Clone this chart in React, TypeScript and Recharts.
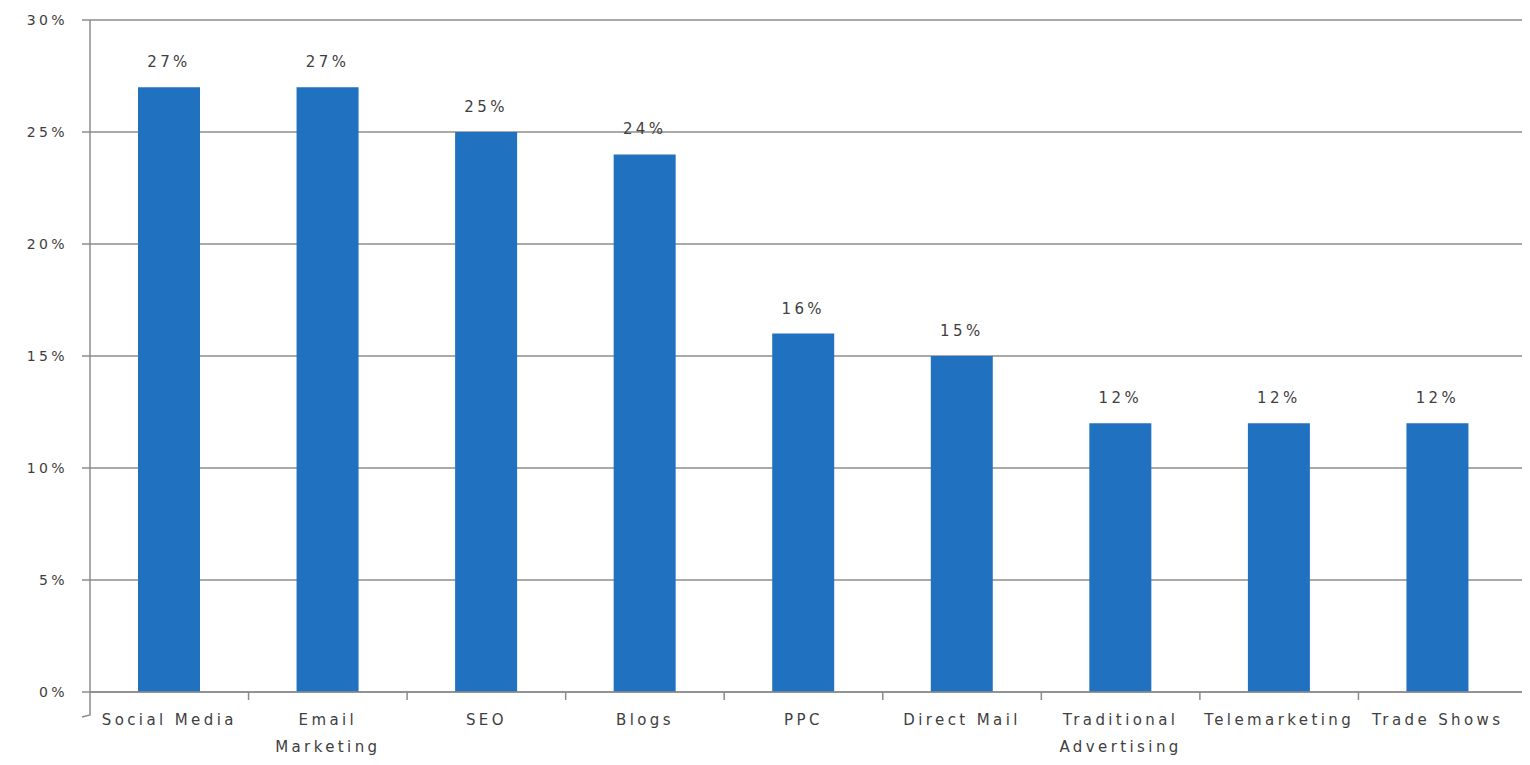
import React from 'react';
import { BarChart, Bar, XAxis, YAxis, CartesianGrid, LabelList } from 'recharts';

const channels = [
  'Social Media',
  'Email Marketing',
  'SEO',
  'Blogs',
  'PPC',
  'Direct Mail',
  'Traditional Advertising',
  'Telemarketing',
  'Trade Shows',
];
const shares = [27, 27, 25, 24, 16, 15, 12, 12, 12];
const yTicks = [0, 5, 10, 15, 20, 25, 30];

// category labels that wrap onto two lines
const labelLines: Record<string, string[]> = {
  'Email Marketing': ['Email', 'Marketing'],
  'Traditional Advertising': ['Traditional', 'Advertising'],
};

const data = channels.map((name, i) => ({ name, value: shares[i] }));

const axisGray = '#8c8c8c';
const rightPad = 13;

const textStyle = {
  fontFamily: '"DejaVu Sans", sans-serif',
  fill: '#404040',
  letterSpacing: 3.4,
};

// label plus the small divider tick on the left edge of each band
const CategoryTick = (props: any) => {
  const { x, y, payload, index, width } = props;
  const lines = labelLines[payload.value] || [payload.value];
  const band = (width - rightPad) / channels.length;
  const edge = x - band / 2;
  const axisY = y - 8;
  return (
    <g>
      {index === 0 ? (
        <path
          d={`M${edge},${axisY} L${edge},${axisY + 23} L${edge - 8},${axisY + 25}`}
          stroke={axisGray}
          strokeWidth={1.5}
          fill="none"
        />
      ) : (
        <line x1={edge} y1={axisY} x2={edge} y2={axisY + 8} stroke={axisGray} strokeWidth={1.5} />
      )}
      <text x={x} y={y + 25} textAnchor="middle" fontSize={15} style={textStyle}>
        {lines.map((line, i) => (
          <tspan key={line} x={x} dy={i === 0 ? 0 : 27}>
            {line}
          </tspan>
        ))}
      </text>
    </g>
  );
};

export default function App() {
  return (
    <div style={{ margin: -8, width: 1530, height: 765, overflow: 'hidden', background: '#fff' }}>
      <BarChart
        width={1530}
        height={765}
        data={data}
        margin={{ top: 20, right: 0, left: 0, bottom: 0 }}
      >
        <CartesianGrid vertical={false} stroke={axisGray} strokeWidth={1.5} />
        <XAxis
          dataKey="name"
          height={73}
          interval={0}
          padding={{ left: 0, right: rightPad }}
          tickLine={false}
          tickSize={6}
          tickMargin={2}
          axisLine={{ stroke: axisGray, strokeWidth: 1.5 }}
          tick={<CategoryTick />}
        />
        <YAxis
          width={90}
          domain={[0, 30]}
          ticks={yTicks}
          interval={0}
          tickSize={8}
          tickMargin={14}
          tickFormatter={(v: number) => `${v}%`}
          axisLine={{ stroke: axisGray, strokeWidth: 1.5 }}
          tickLine={{ stroke: axisGray, strokeWidth: 1.5 }}
          tick={{ fontSize: 14, ...textStyle }}
        />
        <Bar dataKey="value" fill="#2171c1" barSize={62} isAnimationActive={false}>
          <LabelList
            dataKey="value"
            position="top"
            offset={20}
            formatter={(v: any) => `${v}%`}
            style={{ fontSize: 15, ...textStyle }}
          />
        </Bar>
      </BarChart>
    </div>
  );
}
